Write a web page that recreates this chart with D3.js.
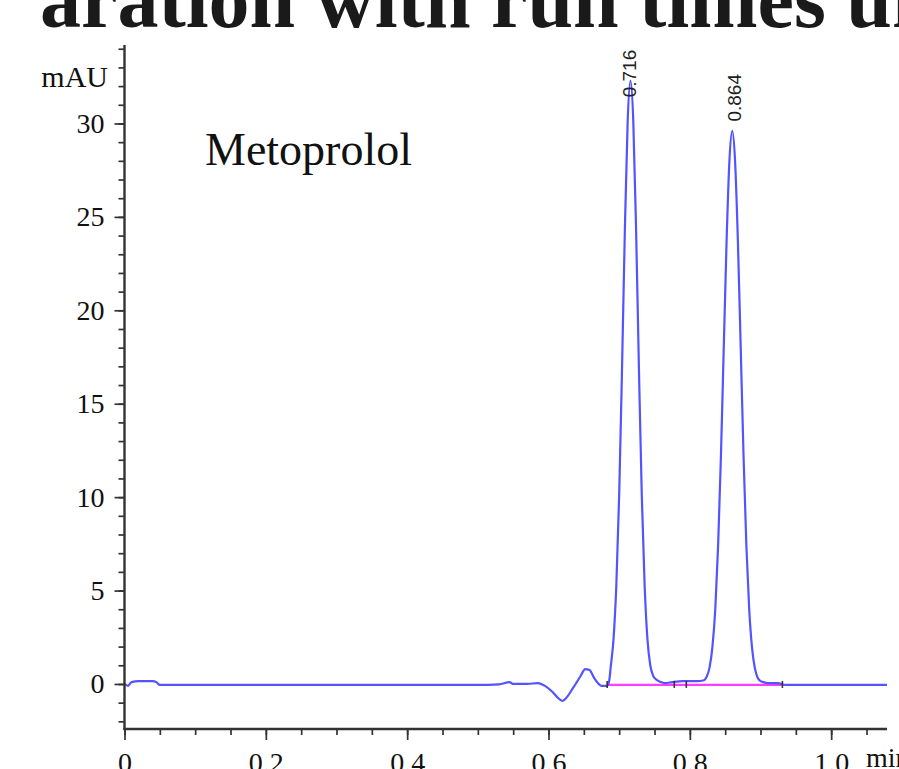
<!DOCTYPE html>
<html>
<head>
<meta charset="utf-8">
<script src="https://cdn.jsdelivr.net/npm/d3@7"></script>
<style>
  html, body { margin: 0; padding: 0; background: #fff; }
  svg { display: block; }
</style>
</head>
<body>
<script>
// ---- data ----
const traceTime = [0.000,0.005,0.010,0.020,0.040,0.045,0.050,0.100,0.200,0.300,0.400,0.500,0.530,0.545,0.550,0.570,0.585,0.595,0.605,0.615,0.620,0.625,0.635,0.645,0.652,0.658,0.665,0.675,0.683,
  0.686,0.688,0.692,0.696,0.700,0.704,0.708,0.712,0.716,0.720,0.724,0.728,0.732,0.736,0.740,0.744,0.748,0.752,0.758,0.765,0.775,0.790,0.810,0.820,
  0.824,0.828,0.832,0.836,0.840,0.844,0.848,0.852,0.856,0.860,0.864,0.868,0.872,0.876,0.880,0.884,0.888,0.892,0.896,0.900,0.904,0.910,0.925,0.935,0.945,1.000,1.079];
const traceMAU = [0.0,-0.1,0.1,0.15,0.15,0.1,-0.05,-0.05,-0.05,-0.05,-0.05,-0.05,-0.02,0.1,0.0,0.0,0.05,-0.1,-0.4,-0.8,-0.9,-0.75,-0.2,0.4,0.8,0.75,0.3,-0.1,-0.1,
  0.2,0.9,2.4,5.3,10.1,16.8,24.2,30.1,32.3,30.1,24.2,16.8,10.1,5.3,2.4,1.0,0.45,0.25,0.12,0.05,0.1,0.15,0.15,0.2,
  0.4,0.9,2.0,4.0,7.4,12.2,18.0,23.7,28.0,29.6,28.0,23.7,18.0,12.2,7.4,4.0,1.95,0.85,0.33,0.15,0.1,0.05,0.05,-0.05,-0.05,-0.05,-0.05];
const peakTimes = [0.716, 0.864];
const peakLabels = ["0.716", "0.864"];
const peakLabelAt = [31.4, 30.1];
const baselineStart = [0.683, 0.795];
const baselineEnd = [0.778, 0.931];
const baselineLevel = -0.05;
const yTicks = [0, 5, 10, 15, 20, 25, 30];
const xTicks = [0, 0.2, 0.4, 0.6, 0.8, 1.0];
const xTickLabels = ["0", "0.2", "0.4", "0.6", "0.8", "1.0"];

// ---- drawing ----
const W = 899, H = 769;
const SERIF = "Liberation Serif, Times New Roman, serif";
const svg = d3.select("body").append("svg").attr("width", W).attr("height", H);

const x = d3.scaleLinear().domain([0, 1.079]).range([124.5, 887]);
const y = d3.scaleLinear().domain([-2.41, 34.2]).range([729, 45]);

// cut-off heading at top
svg.append("text")
  .attr("x", 40).attr("y", 27)
  .attr("font-family", SERIF)
  .attr("font-size", 82)
  .attr("font-weight", "bold")
  .attr("fill", "#1a1a1a")
  .text("aration with run times un");

// trace
const pts = traceTime.map((t, i) => [t, traceMAU[i]]);
const line = d3.line().x(d => x(d[0])).y(d => y(d[1])).curve(d3.curveMonotoneX);

// integration baselines
svg.append("line")
  .attr("x1", x(baselineStart[0])).attr("x2", x(baselineEnd[1]))
  .attr("y1", y(baselineLevel)).attr("y2", y(baselineLevel))
  .attr("stroke", "#ff3cff").attr("stroke-width", 2.4);

svg.append("path").datum(pts)
  .attr("d", line)
  .attr("fill", "none")
  .attr("stroke", "#5353ff")
  .attr("stroke-width", 2.2)
  .attr("stroke-linejoin", "round");

// boundary marks
[...baselineStart, ...baselineEnd].forEach(t => {
  svg.append("line")
    .attr("x1", x(t)).attr("x2", x(t))
    .attr("y1", y(baselineLevel) - 4).attr("y2", y(baselineLevel) + 3)
    .attr("stroke", "#333").attr("stroke-width", 1.6);
});

// axes
const yMinor = d3.range(-2, 35, 1);
const xMinor = d3.range(0, 1.08, 0.05);

const yAxis = svg.append("g").attr("transform", `translate(${x(0)},0)`);
yAxis.call(d3.axisLeft(y).tickValues(yMinor).tickSize(6).tickFormat(""));
yAxis.call(g => g.select(".domain").remove());
yAxis.append("g").call(d3.axisLeft(y).tickValues(yTicks).tickSize(10).tickPadding(10).tickFormat(d3.format("d")))
  .call(g => g.select(".domain").remove());

const xAxis = svg.append("g").attr("transform", `translate(0,${y(-2.41)})`);
xAxis.call(d3.axisBottom(x).tickValues(xMinor).tickSize(6).tickFormat(""));
xAxis.call(g => g.select(".domain").remove());
xAxis.append("g").call(d3.axisBottom(x).tickValues(xTicks).tickSize(11).tickPadding(12).tickFormat((d, i) => xTickLabels[i]))
  .call(g => g.select(".domain").remove());

svg.selectAll(".tick line").attr("stroke", "#333").attr("stroke-width", 1.7);
svg.selectAll(".tick text")
  .attr("font-family", SERIF)
  .attr("font-size", 28)
  .attr("fill", "#111");

// axis lines
svg.append("line").attr("x1", x(0)).attr("x2", x(0)).attr("y1", 45).attr("y2", y(-2.41) + 1)
  .attr("stroke", "#333").attr("stroke-width", 2.4);
svg.append("line").attr("x1", x(0) - 1).attr("x2", 887).attr("y1", y(-2.41)).attr("y2", y(-2.41))
  .attr("stroke", "#333").attr("stroke-width", 2.4);

// unit labels
svg.append("text").attr("x", 108).attr("y", 87).attr("text-anchor", "end")
  .attr("font-family", SERIF).attr("font-size", 30).attr("fill", "#111")
  .text("mAU");
svg.append("text").attr("x", 866).attr("y", 767)
  .attr("font-family", SERIF).attr("font-size", 28).attr("fill", "#111")
  .text("min");

// compound name
svg.append("text").attr("x", 205).attr("y", 165)
  .attr("font-family", SERIF).attr("font-size", 46).attr("fill", "#111")
  .text("Metoprolol");

// peak labels
peakTimes.forEach((t, i) => {
  svg.append("text")
    .attr("transform", `translate(${x(t) + 6},${y(peakLabelAt[i])}) rotate(-90)`)
    .attr("font-family", "Liberation Sans, Arial, sans-serif")
    .attr("font-size", 19).attr("fill", "#222")
    .text(peakLabels[i]);
});
</script>
</body>
</html>
